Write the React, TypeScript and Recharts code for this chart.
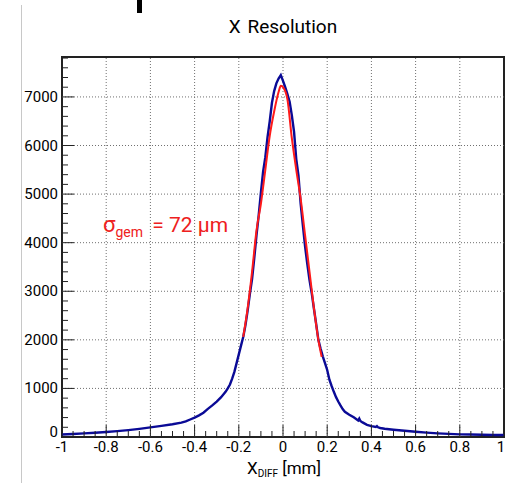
import React from "react";
import {
  ComposedChart,
  Line,
  XAxis,
  YAxis,
  ReferenceLine,
  ReferenceArea,
} from "recharts";

// ---- data ----
const histX = [
  -1.0, -0.95, -0.9, -0.85, -0.8, -0.75, -0.7, -0.65, -0.6, -0.55, -0.5, -0.46, -0.44, -0.42, -0.4,
  -0.38, -0.36, -0.34, -0.32, -0.3, -0.28, -0.26, -0.25, -0.24, -0.23, -0.22, -0.21, -0.2, -0.19,
  -0.18, -0.17, -0.16, -0.15, -0.14, -0.13, -0.12, -0.11, -0.1, -0.09, -0.08, -0.07, -0.06, -0.05,
  -0.04, -0.03, -0.02, -0.01, 0.0, 0.01, 0.02, 0.03, 0.04, 0.05, 0.06, 0.07, 0.08, 0.09, 0.1, 0.11,
  0.12, 0.13, 0.14, 0.15, 0.16, 0.17, 0.18, 0.19, 0.2, 0.21, 0.22, 0.23, 0.24, 0.25, 0.26, 0.27,
  0.28, 0.3, 0.32, 0.34, 0.345, 0.35, 0.36, 0.38, 0.4, 0.42, 0.425, 0.43, 0.44, 0.46, 0.48, 0.5, 0.55, 0.6, 0.65,
  0.7, 0.75, 0.8, 0.85, 0.9, 0.95, 1.0,
];
const histCounts = [
  50, 62, 75, 88, 103, 120, 142, 168, 198, 228, 262, 295, 320, 360, 400,
  445, 500, 580, 650, 730, 820, 930, 1000, 1080, 1200, 1340, 1520, 1700, 1880,
  2060, 2300, 2600, 2940, 3250, 3680, 4150, 4560, 5030, 5460, 5760, 6170, 6500, 6880,
  7120, 7280, 7380, 7450, 7330, 7200, 7060, 6900, 6620, 6280, 5720, 5380, 4800, 4350, 3920, 3560,
  3230, 2960, 2640, 2330, 2000, 1820, 1660, 1520, 1380, 1180, 1050, 930, 820, 730, 650, 575,
  520, 460, 405, 340, 380, 330, 300, 250, 225, 205, 225, 200, 185, 170, 160, 150, 128, 108, 90,
  75, 65, 55, 50, 45, 42, 40,
];

const fitX = [-0.18, -0.16, -0.14, -0.12, -0.1, -0.08, -0.06, -0.04, -0.02, -0.01, 0.0, 0.02, 0.04, 0.06, 0.08, 0.1, 0.12, 0.14, 0.16, 0.175];
const fitY = [2060, 2650, 3400, 4250, 4800, 5500, 6200, 6700, 7100, 7230, 7200, 6950, 6150, 5500, 4900, 4150, 3400, 2650, 2000, 1650];

const xMajorTicks = [-1, -0.8, -0.6, -0.4, -0.2, 0, 0.2, 0.4, 0.6, 0.8, 1];
const xTickLabels = ["-1", "-0.8", "-0.6", "-0.4", "-0.2", "0", "0.2", "0.4", "0.6", "0.8", "1"];
const yMajorTicks = [0, 1000, 2000, 3000, 4000, 5000, 6000, 7000];
const yTickLabels = ["0", "1000", "2000", "3000", "4000", "5000", "6000", "7000"];
const yMax = 7822;

const xMinorTicks = Array.from({ length: 41 }, (_, i) => Math.round((-1 + i * 0.05) * 1000) / 1000);
const yMinorTicks = Array.from({ length: 40 }, (_, i) => i * 200);

const histData = histX.map((x, i) => ({ x, v: histCounts[i] }));
const fitData = fitX.map((x, i) => ({ x, f: fitY[i] }));

const FONT = "Roboto, 'Liberation Sans', Arial, sans-serif";
const FRAME = "#222";

const XTick = (props: any) => {
  const { x, y, payload } = props;
  const v = payload.value;
  const idx = xMajorTicks.findIndex((m) => Math.abs(m - v) < 1e-6);
  const major = idx >= 0;
  const shift = idx === xMajorTicks.length - 1 ? -3 : 0;
  return (
    <g>
      <line x1={x} x2={x} y1={y} y2={y - (major ? 12 : 6)} stroke={FRAME} strokeWidth={1} />
      {major && (
        <text x={x + shift} y={y + 15} textAnchor="middle" fontSize={15} fontFamily={FONT} fill="#000">
          {xTickLabels[idx]}
        </text>
      )}
    </g>
  );
};

const YTick = (props: any) => {
  const { x, y, payload } = props;
  const v = payload.value;
  const idx = yMajorTicks.indexOf(v);
  const major = idx >= 0;
  return (
    <g>
      <line x1={x} x2={x + (major ? 12 : 6)} y1={y} y2={y} stroke={FRAME} strokeWidth={1} />
      {major && (
        <text x={x - 4} y={y + 5 - (v === 0 ? 5 : 0)} textAnchor="end" fontSize={15} fontFamily={FONT} fill="#000">
          {yTickLabels[idx]}
        </text>
      )}
    </g>
  );
};

export default function App() {
  return (
    <div style={{ position: "absolute", left: 0, top: 0, width: 506, height: 483, background: "#fff" }}>
      <ComposedChart width={506} height={483} margin={{ top: 57, right: 2, bottom: 0, left: 2 }}>
        <XAxis
          type="number"
          dataKey="x"
          domain={[-1, 1]}
          ticks={xMinorTicks}
          interval={0}
          tickSize={0}
          tickMargin={0}
          axisLine={false}
          tickLine={false}
          tick={<XTick />}
          height={46}
          allowDecimals
        />
        <YAxis
          type="number"
          domain={[0, yMax]}
          ticks={yMinorTicks}
          interval={0}
          tickSize={0}
          tickMargin={0}
          axisLine={false}
          tickLine={false}
          tick={<YTick />}
          width={60}
          allowDataOverflow
        />
        {xMajorTicks.slice(1, -1).map((v) => (
          <ReferenceLine key={"gx" + v} x={v} stroke="#707070" strokeDasharray="1 2" strokeWidth={1} />
        ))}
        {yMajorTicks.slice(1).map((v) => (
          <ReferenceLine key={"gy" + v} y={v} stroke="#707070" strokeDasharray="1 2" strokeWidth={1} />
        ))}
        <Line
          data={histData}
          dataKey="v"
          type="linear"
          stroke="#0a0a96"
          strokeWidth={2.4}
          dot={false}
          isAnimationActive={false}
        />
        <Line
          data={fitData}
          dataKey="f"
          type="monotone"
          stroke="#ff1a1a"
          strokeWidth={2}
          dot={false}
          isAnimationActive={false}
        />
        <ReferenceArea x1={-1} x2={1} y1={0} y2={yMax} fill="none" stroke={FRAME} strokeWidth={2} />
      </ComposedChart>
      <svg
        width={506}
        height={483}
        style={{ position: "absolute", left: 0, top: 0, pointerEvents: "none" }}
      >
        <line x1={21.5} x2={21.5} y1={5} y2={483} stroke="#c8c8c8" strokeWidth={1} />
        <rect x={137} y={0} width={5} height={13} fill="#000" />
        <text x={283} y={33} textAnchor="middle" fontSize={19} fontFamily={FONT} fill="#000">
          X<tspan dx={2}> Resolution</tspan>
        </text>
        <text x={284} y={474} textAnchor="middle" fontSize={17} fontFamily={FONT} fill="#000">
          X<tspan fontSize={10} dy={3}>DIFF</tspan>
          <tspan dy={-3}> [mm]</tspan>
        </text>
        <text x={103} y={232} fontSize={21} fontFamily={FONT} fill="#ee2020">
          <tspan fontSize={22}>σ</tspan>
          <tspan fontSize={14} dy={5}>gem</tspan>
          <tspan dy={-5} dx={4}> = 72 μm</tspan>
        </text>
      </svg>
    </div>
  );
}
